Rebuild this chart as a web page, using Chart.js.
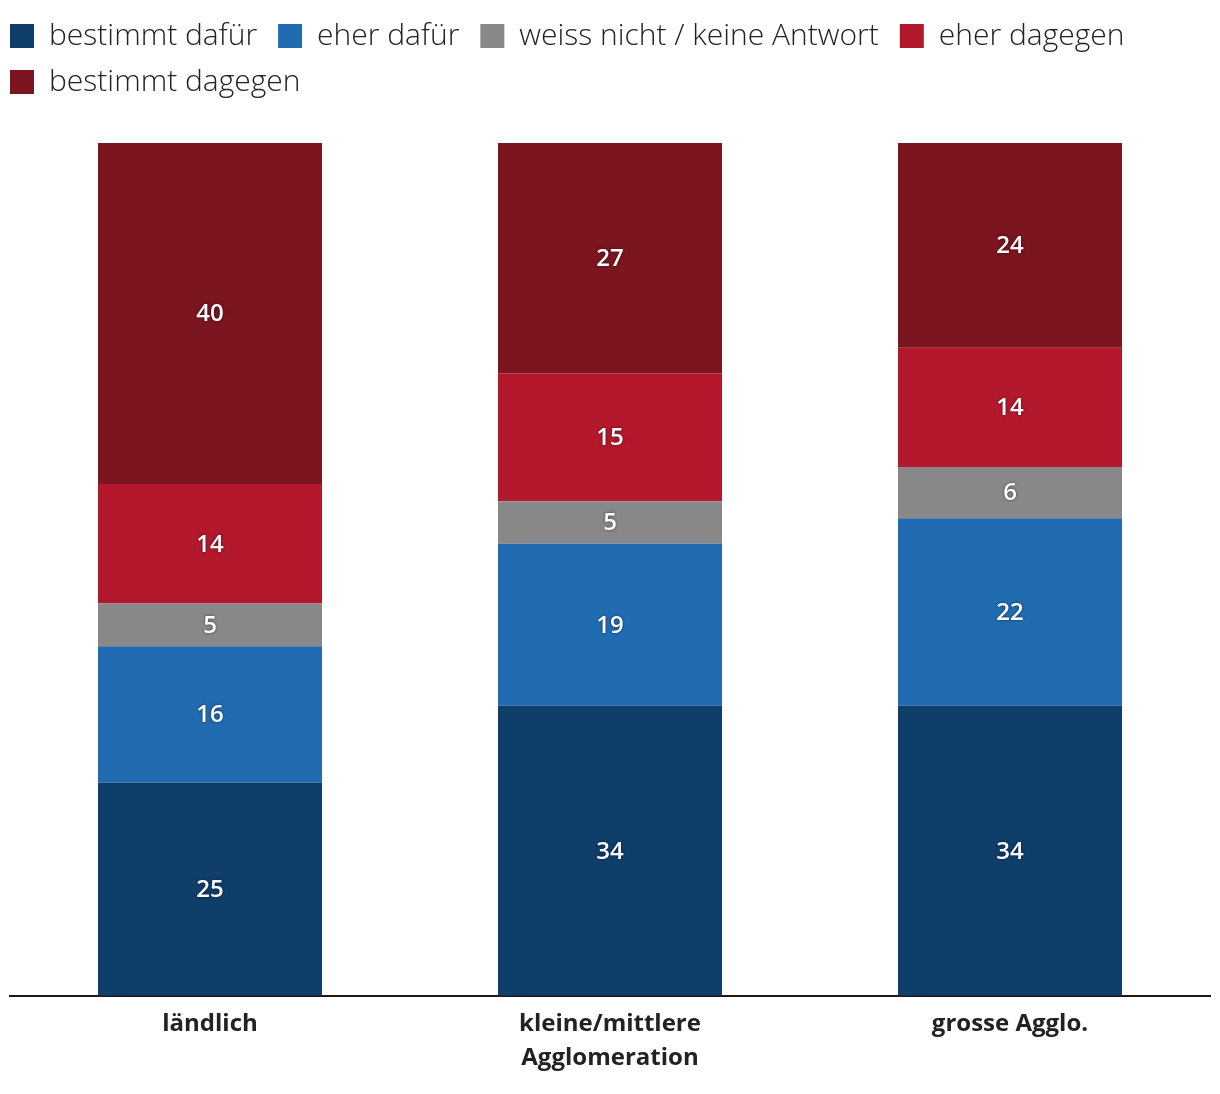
<!DOCTYPE html>
<html>
<head>
<meta charset="utf-8">
<script src="https://cdn.jsdelivr.net/npm/chart.js@4"></script>
<style>
  html, body { margin: 0; padding: 0; background: #fff; }
  #wrap { width: 1220px; height: 1094px; position: relative; }
</style>
</head>
<body>
<div id="wrap"><canvas id="c"></canvas></div>
<script>
const categories = ["ländlich", ["kleine/mittlere", "Agglomeration"], "grosse Agglo."];
const seriesNames = ["bestimmt dafür", "eher dafür", "weiss nicht / keine Antwort", "eher dagegen", "bestimmt dagegen"];
const bestimmtDafuer = [25, 34, 34];
const eherDafuer = [16, 19, 22];
const weissNicht = [5, 5, 6];
const eherDagegen = [14, 15, 14];
const bestimmtDagegen = [40, 27, 24];
const seriesColors = ["#0f3e6a", "#216bb1", "#888888", "#b3182c", "#7b1520"];

const seriesValues = [bestimmtDafuer, eherDafuer, weissNicht, eherDagegen, bestimmtDagegen];

const valueLabels = {
  id: 'valueLabels',
  afterDatasetsDraw(chart) {
    const ctx = chart.ctx;
    ctx.save();
    ctx.font = "600 24px 'Open Sans', sans-serif";
    ctx.fillStyle = "#ffffff";
    ctx.textAlign = "center";
    ctx.textBaseline = "middle";
    ctx.shadowColor = "rgba(0,0,0,0.55)";
    ctx.shadowBlur = 3;
    chart.data.datasets.forEach((ds, i) => {
      const meta = chart.getDatasetMeta(i);
      meta.data.forEach((bar, j) => {
        const v = ds.data[j];
        const p = bar.getProps(['x', 'y', 'base'], true);
        ctx.fillText(String(v), p.x, (p.y + p.base) / 2 + 1);
      });
    });
    ctx.restore();
  }
};

const legendShift = {
  id: 'legendShift',
  afterLayout(chart) {
    if (chart.legend) {
      chart.legend.left -= 16;
    }
  }
};

new Chart(document.getElementById('c'), {
  type: 'bar',
  data: {
    labels: categories,
    datasets: seriesNames.map((n, i) => ({
      label: n,
      data: seriesValues[i],
      backgroundColor: seriesColors[i],
      borderWidth: 0,
      barPercentage: 0.56,
      categoryPercentage: 1.0
    }))
  },
  options: {
    responsive: true,
    maintainAspectRatio: false,
    animation: false,
    layout: { padding: { left: 10, right: 10, top: 5, bottom: 7 } },
    plugins: {
      legend: {
        position: 'top',
        align: 'start',
        labels: {
          boxWidth: 24,
          boxHeight: 24,
          padding: 16,
          color: '#222222',
          font: { family: "'Open Sans', sans-serif", size: 30, weight: '300' },
          generateLabels(chart) {
            const items = Chart.defaults.plugins.legend.labels.generateLabels(chart);
            items.forEach(it => { it.text = it.text + '\u2009'; });
            return items;
          }
        }
      },
      title: {
        display: true,
        text: ' ',
        position: 'top',
        weight: 500,
        padding: 0,
        font: { size: 36, lineHeight: 1 }
      },
      tooltip: { enabled: false }
    },
    scales: {
      x: {
        stacked: true,
        grid: { display: false, drawTicks: false },
        border: { display: true, color: '#1a1a1a', width: 2 },
        ticks: {
          color: '#222222',
          padding: 12,
          font: { family: "'Open Sans', sans-serif", size: 24, weight: 'bold', lineHeight: 1.4 }
        }
      },
      y: {
        stacked: true,
        display: false,
        min: 0,
        max: 100
      }
    }
  },
  plugins: [valueLabels, legendShift]
});
</script>
</body>
</html>
